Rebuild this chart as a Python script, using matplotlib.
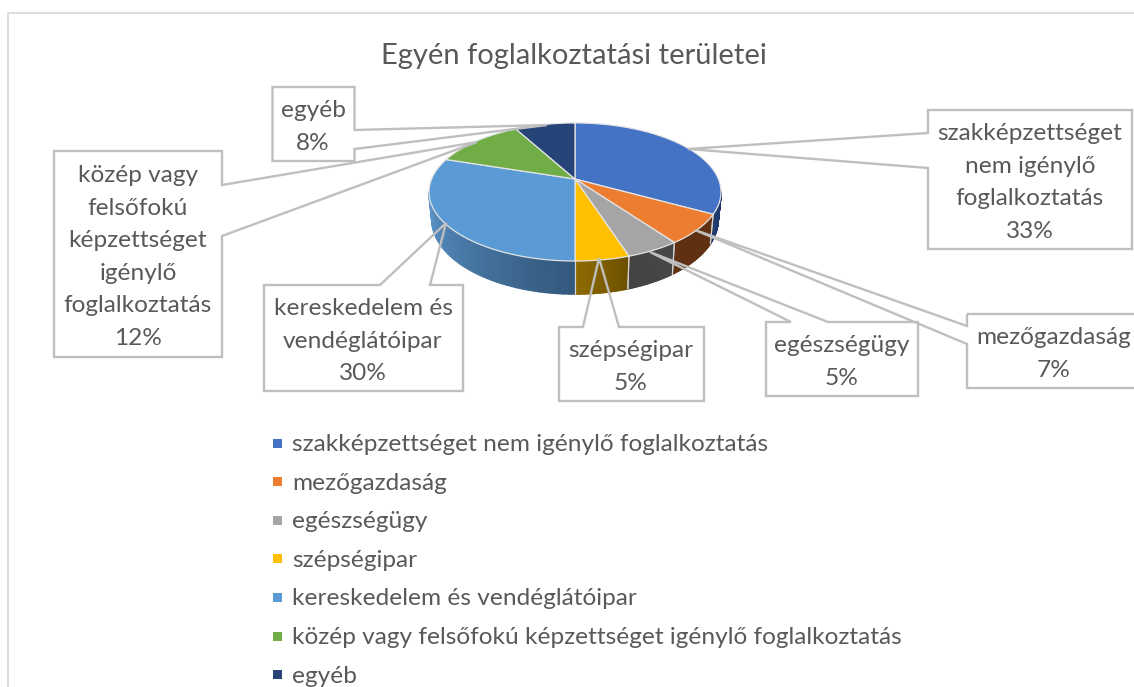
# plot.py - Egyén foglalkoztatási területei, 3D kördiagram újrarajzolása
import numpy as np
import matplotlib
matplotlib.use("Agg")
import matplotlib.pyplot as plt
from matplotlib.collections import PolyCollection
from matplotlib.patches import Polygon, Rectangle
from matplotlib.colors import to_rgb

plt.rcParams["font.family"] = ["Lato", "DejaVu Sans"]

# =========================================================
# Adatok
# =========================================================
categories = [
    "szakképzettséget nem igénylő foglalkoztatás",
    "mezőgazdaság",
    "egészségügy",
    "szépségipar",
    "kereskedelem és vendéglátóipar",
    "közép vagy felsőfokú képzettséget igénylő foglalkoztatás",
    "egyéb",
]
values = [33, 7, 5, 5, 30, 12, 8]
title = "Egyén foglalkoztatási területei"

label_lines = [
    ["szakképzettséget", "nem igénylő", "foglalkoztatás"],
    ["mezőgazdaság"],
    ["egészségügy"],
    ["szépségipar"],
    ["kereskedelem és", "vendéglátóipar"],
    ["közép vagy", "felsőfokú", "képzettséget", "igénylő", "foglalkoztatás"],
    ["egyéb"],
]

# =========================================================
# Megjelenés
# =========================================================
COR_TOP = ["#4472C4", "#ED7D31", "#A5A5A5", "#FFC000", "#5B9BD5", "#70AD47", "#264478"]
# oldalfal színe a szelet elején / végén (óramutató szerint)
COR_WALL = [
    ("#1B3566", "#1F3D74"),
    ("#5F3012", "#5F3012"),
    ("#474747", "#434343"),
    ("#6C5000", "#8F6B00"),
    ("#33587C", "#5A93C8"),
    ("#44692B", "#44692B"),
    ("#172A4A", "#172A4A"),
]
COR_TXT = "#595959"
COR_BOX = "#BFBFBF"
COR_FRAME = "#D9D9D9"
COR_SEAM = "#D5D5D5"

FS_LABEL = 17.6
FS_TITLE = 21.0

# kör -> ellipszis perspektivikus vetítés (pixelben)
CX, CY = 575.0, 179.0
PA, PB, PK = 143.4, 66.6, 0.188
DEPTH, SY_LOW, SX_LOW = 26.4, 1.08, 0.98

# címkedobozok: (x0, y0, x1, y1), ék két töve, ék csúcsa, szöveg közepe x
BOXES = [
    ((928, 110, 1132, 249), [(928, 133), (928, 168)], (688, 149), 1030),
    ((967, 314, 1140, 388), [(967, 326), (967, 344)], (695, 230), 1054),
    ((766, 322, 918, 396), [(791, 322), (828, 322)], (650, 252), 842),
    ((559, 327, 704, 401), [(583, 327), (619, 327)], (599, 258), 631),
    ((264, 285, 463, 391), [(380, 285), (430, 285)], (446, 223), 363),
    ((54, 151, 222, 357), [(222, 185), (222, 236)], (477, 142), 138),
    ((272.5, 87, 354.5, 161), [(354.5, 130), (354.5, 149)], (547, 125), 313),
]
LINE_H = 32.5
TXT_DY = 3
LEG_X, LEG_Y0, LEG_DY, LEG_S = 273, 443, 38.6, 9


def project(theta, lower=False):
    """theta fokban, felülről óramutató szerint -> pixel x, y"""
    t = np.radians(theta)
    u, v = np.sin(t), -np.cos(t)
    den = 1 - PK * v
    x, y = PA * u / den, PB * v / den
    if lower:
        return CX + SX_LOW * x, CY + DEPTH + SY_LOW * y
    return CX + x, CY + y


def box_outline(box, base, tip):
    x0, y0, x1, y1 = box
    (bx0, by0), (bx1, by1) = base
    if by0 == y0:   # ék a felső oldalon
        return [(x0, y0), (bx0, by0), tip, (bx1, by1), (x1, y0), (x1, y1), (x0, y1)]
    if bx0 == x0:   # ék a bal oldalon
        return [(x0, y0), (x1, y0), (x1, y1), (x0, y1), (bx1, by1), tip, (bx0, by0)]
    # ék a jobb oldalon
    return [(x0, y0), (x1, y0), (bx0, by0), tip, (bx1, by1), (x1, y1), (x0, y1)]


fig = plt.figure(figsize=(11.34, 6.87), dpi=100)
ax = fig.add_axes([0, 0, 1, 1])
ax.set_xlim(0, 1134)
ax.set_ylim(687, 0)
ax.axis("off")

# keret
ax.plot([8, 8, 1134], [687, 13, 13], color=COR_FRAME, lw=1.3, zorder=1)

ax.text(574, 56, title, fontsize=FS_TITLE, color=COR_TXT, ha="center", va="center")

# szelethatárok fokban
edges = np.concatenate([[0], np.cumsum(values)]) / sum(values) * 360.0
vis0 = np.degrees(np.arccos(-PK))
vis1 = 360.0 - vis0

# oldalfalak
for i in range(len(values)):
    a0, a1 = max(edges[i], vis0), min(edges[i + 1], vis1)
    if a1 <= a0:
        continue
    ts = np.linspace(a0, a1, 41)
    c0, c1 = np.array(to_rgb(COR_WALL[i][0])), np.array(to_rgb(COR_WALL[i][1]))
    polys, cols = [], []
    for j in range(40):
        xa, ya = project(ts[j])
        xb, yb = project(ts[j + 1])
        xc, yc = project(ts[j + 1], lower=True)
        xd, yd = project(ts[j], lower=True)
        polys.append([(xa, ya), (xb, yb), (xc, yc), (xd, yd)])
        cols.append(c0 + (c1 - c0) * j / 39)
    ax.add_collection(PolyCollection(polys, facecolors=cols, edgecolors=cols,
                                     linewidths=1.2, zorder=2))
    # varrat a falon
    for a in [a0, a1]:
        if a in (edges[i], edges[i + 1]) and 0 < a < 360:
            xa, ya = project(a)
            xb, yb = project(a, lower=True)
            ax.plot([xa, xb], [ya, yb], color=COR_SEAM, lw=0.8, zorder=3)

# felső lap
for i in range(len(values)):
    ts = np.linspace(edges[i], edges[i + 1], 121)
    xs, ys = project(ts)
    pts = [(CX, CY)] + list(zip(xs, ys))
    ax.add_patch(Polygon(pts, closed=True, facecolor=COR_TOP[i], edgecolor="#E4E4E4",
                         lw=0.9, joinstyle="round", zorder=4))

# címkék
for i in range(len(values)):
    box, base, tip, xc = BOXES[i]
    ax.add_patch(Polygon(box_outline(box, base, tip), closed=True, fill=False,
                         edgecolor=COR_BOX, lw=1.7, joinstyle="miter", zorder=5))
    lines = label_lines[i] + [f"{values[i]}%"]
    yc = (box[1] + box[3]) / 2 + TXT_DY
    for n, line in enumerate(lines):
        y = yc + (n - (len(lines) - 1) / 2) * LINE_H
        ax.text(xc, y, line, fontsize=FS_LABEL, color=COR_TXT, ha="center", va="center",
                clip_on=True, zorder=6)

# jelmagyarázat
for i, cat in enumerate(categories):
    y = LEG_Y0 + i * LEG_DY
    ax.add_patch(Rectangle((LEG_X, y - LEG_S / 2), LEG_S, LEG_S, facecolor=COR_TOP[i],
                           edgecolor="none", zorder=5))
    ax.text(292, y + 1.5, cat, fontsize=FS_LABEL, color=COR_TXT, ha="left", va="center", zorder=6)

fig.savefig("out.png", dpi=100)
